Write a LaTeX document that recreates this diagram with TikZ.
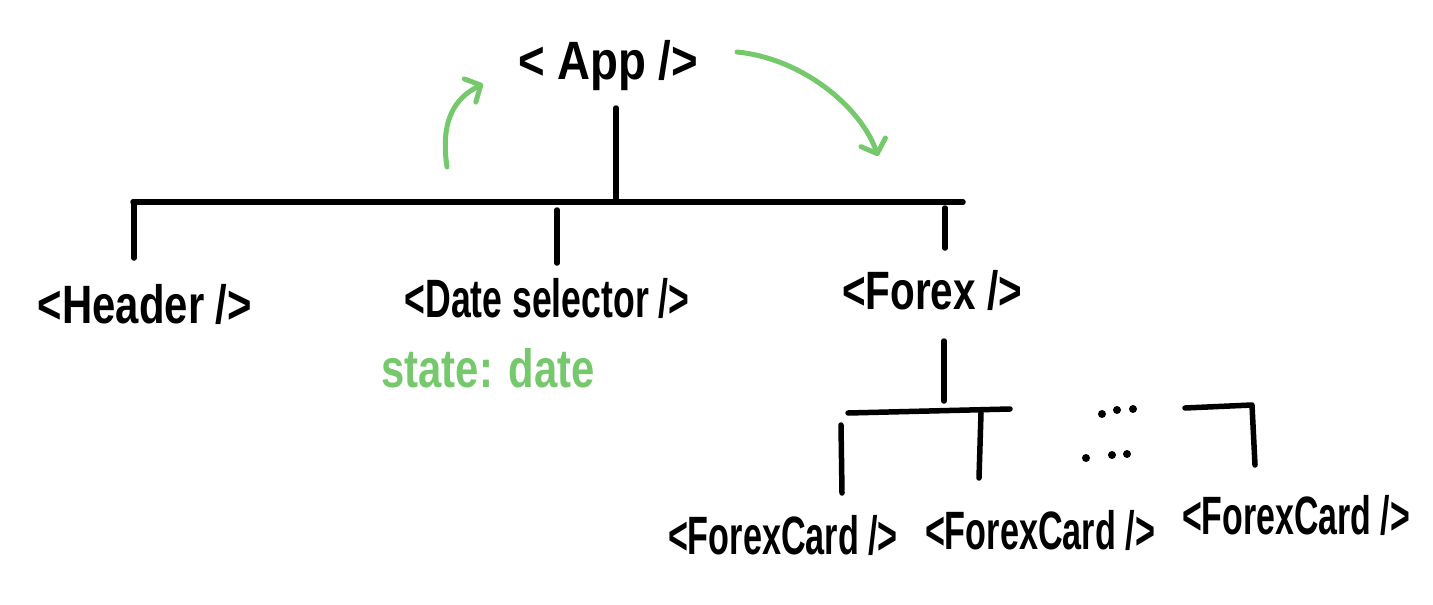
\documentclass[tikz,border=0pt]{standalone}
\usepackage{fontspec}
\setmainfont{Liberation Sans}
\usetikzlibrary{arrows.meta}
\definecolor{hgreen}{RGB}{118,200,108}
\begin{document}
\begin{tikzpicture}[x=1pt,y=-1pt,line cap=round,line join=round,
  wire/.style={line width=5.5pt,black},
  garrow/.style={line width=5pt,hgreen,-{Straight Barb[length=12pt,width=26pt,line width=5pt,round]}},
  lbl/.style={inner sep=0pt,font=\fontsize{54}{58}\selectfont\bfseries},
  glbl/.style={lbl,text=hgreen},
  dotmark/.style={fill=black,circle,inner sep=0pt,minimum size=8pt}]
\useasboundingbox (0,0) rectangle (1433,605);
% labels
\node[lbl] (app) at (608,66) {\resizebox{180pt}{\height}{< App />}};
\node[lbl] (header) at (145,304) {\resizebox{214pt}{\height}{<Header />}};
\node[lbl] (date) at (547,298) {\resizebox{285pt}{\height}{<Date selector />}};
\node[lbl] (forex) at (932,290) {\resizebox{180pt}{\height}{<Forex />}};
\node[glbl] (state) at (488,368) {\resizebox{213pt}{\height}{state: date}};
\node[lbl] (fc1) at (783,535) {\resizebox{230pt}{\height}{<ForexCard />}};
\node[lbl] (fc2) at (1040,530) {\resizebox{230pt}{\height}{<ForexCard />}};
\node[lbl] (fc3) at (1296,515) {\resizebox{228pt}{\height}{<ForexCard />}};
% top tree
\coordinate (appdrop) at (616,108);
\coordinate (barL) at (133,202);
\coordinate (barR) at (963,202);
\coordinate (barM) at (616,202);
\coordinate (hTop) at (134,202);
\coordinate (hBot) at (134,258);
\coordinate (dTop) at (557,210);
\coordinate (dBot) at (557,263);
\coordinate (fTop) at (945,208);
\coordinate (fBot) at (945,248);
\draw[wire] (appdrop) -- (barM);
\draw[wire] (barL) -- (barR);
\draw[wire] (hTop) -- (hBot);
\draw[wire] (dTop) -- (dBot);
\draw[wire] (fTop) -- (fBot);
% forex subtree
\coordinate (fxdropT) at (944,341);
\coordinate (fxdropB) at (944,401);
\coordinate (bar2L) at (848,413);
\coordinate (bar2R) at (1010,409);
\coordinate (c1T) at (841,425);
\coordinate (c1B) at (842,493);
\coordinate (c2T) at (981,413);
\coordinate (c2B) at (979,478);
\coordinate (c3L) at (1185,408);
\coordinate (c3C) at (1252,405);
\coordinate (c3B) at (1255,465);
\draw[wire] (fxdropT) -- (fxdropB);
\draw[wire] (bar2L) -- (bar2R);
\draw[wire] (c1T) -- (c1B);
\draw[wire] (c2T) -- (c2B);
\draw[wire] (c3L) -- (c3C) -- (c3B);
% dots
\node[dotmark] (d1) at (1102,414) {};
\node[dotmark] (d2) at (1117,410) {};
\node[dotmark] (d3) at (1133,409) {};
\node[dotmark] (d4) at (1086,458) {};
\node[dotmark] (d5) at (1112,455) {};
\node[dotmark] (d6) at (1127,454) {};
% green arrows
\coordinate (gaS) at (447,167);
\coordinate (gaE) at (483,84);
\coordinate (gbS) at (737,52);
\coordinate (gbE) at (878,156);
\draw[garrow] (gaS) .. controls (440,120) and (455,98) .. (gaE);
\draw[garrow] (gbS) .. controls (800,58) and (860,105) .. (gbE);
\end{tikzpicture}
\end{document}
